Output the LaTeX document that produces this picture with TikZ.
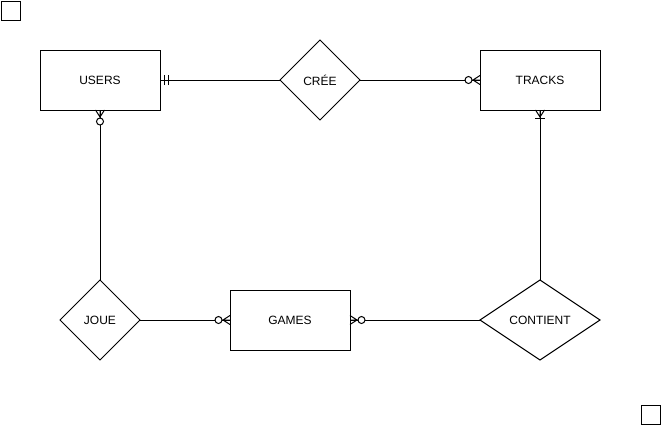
\documentclass[tikz,border=0pt]{standalone}
\usepackage{fontspec}
\setmainfont{Liberation Sans}
\usetikzlibrary{shapes.geometric}

\tikzset{
	entity/.style={draw, rectangle, minimum width=120pt, minimum height=60pt, inner sep=0pt, outer sep=0pt},
	relation/.style={draw, diamond, minimum width=80pt, minimum height=80pt, inner sep=0pt, outer sep=0pt},
	corner/.style={draw, rectangle, minimum size=19pt, inner sep=0pt, outer sep=0pt},
	onlyone/.pic={\draw (4pt,-5pt) -- (4pt,5pt) (8pt,-5pt) -- (8pt,5pt);},
	zeromany/.pic={\draw (0pt,-4.5pt) -- (7pt,0pt) -- (0pt,4.5pt) (0pt,0pt) -- (8pt,0pt);
		\draw[fill=white] (11.5pt,0pt) circle (3.5pt);},
	onemany/.pic={\draw (0pt,-4.5pt) -- (7pt,0pt) -- (0pt,4.5pt) (0pt,0pt) -- (8pt,0pt);
		\draw (8pt,-5pt) -- (8pt,5pt);}
}

\begin{document}
\begin{tikzpicture}[x=1pt, y=-1pt, line width=1pt, font=\fontsize{12}{14}\selectfont]
	\useasboundingbox (0,0) rectangle (661,426);
	
	\node[corner] (c1) at (10.5,10.5) {};
	\node[corner] (c2) at (650.5,414.5) {};
	
	\node[entity] (users) at (100,80) {USERS};
	\node[relation] (cree) at (320,80) {CRÉE};
	\node[entity] (tracks) at (540,80) {TRACKS};
	\node[relation] (joue) at (100,320) {JOUE};
	\node[entity] (games) at (290,320) {GAMES};
	\node[relation, minimum width=120pt] (contient) at (540,320) {CONTIENT};
	
	\draw (users.east) -- (cree.west);
	\draw (cree.east) -- (tracks.west);
	\draw (users.south) -- (joue.north);
	\draw (joue.east) -- (games.west);
	\draw (contient.west) -- (games.east);
	\draw (contient.north) -- (tracks.south);
	
	\pic at (users.east) {onlyone};
	\pic[rotate=180] at (tracks.west) {zeromany};
	\pic[rotate=-90] at (users.south) {zeromany};
	\pic[rotate=180] at (games.west) {zeromany};
	\pic at (games.east) {zeromany};
	\pic[rotate=-90] at (tracks.south) {onemany};
	
\end{tikzpicture}
\end{document}
